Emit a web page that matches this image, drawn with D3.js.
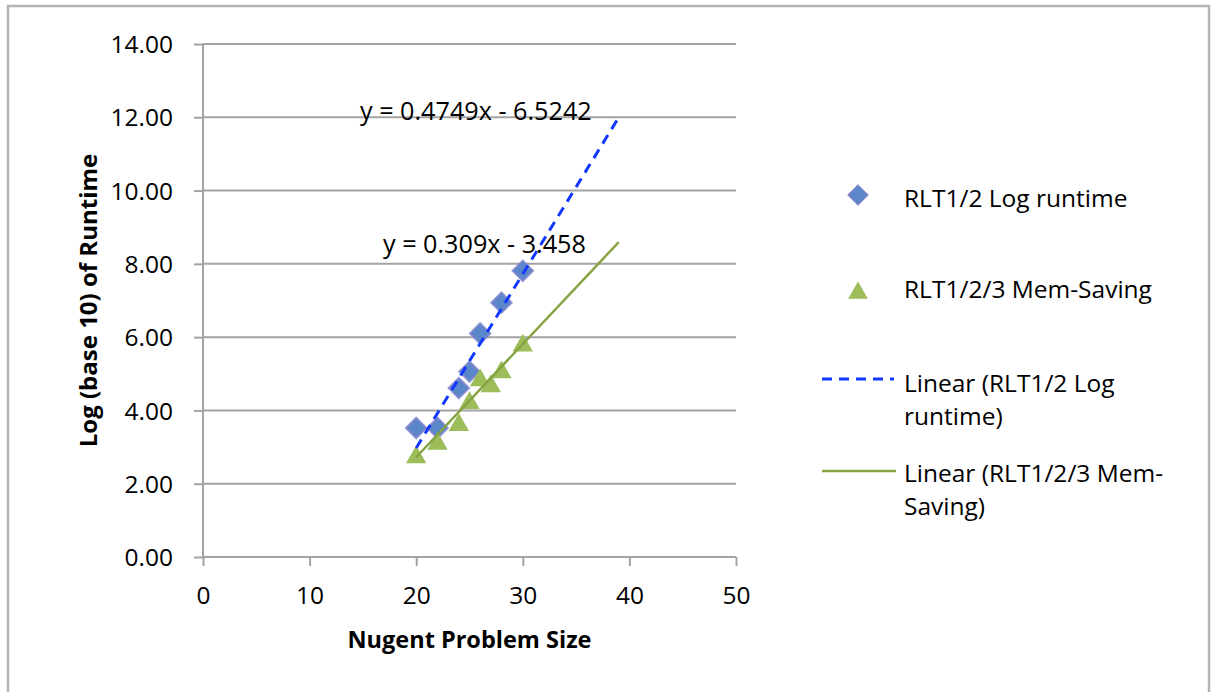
<!DOCTYPE html>
<html>
<head>
<meta charset="utf-8">
<script src="https://cdn.jsdelivr.net/npm/d3@7"></script>
<style>
  html, body { margin: 0; padding: 0; background: #fff; }
  svg { display: block; font-family: "Open Sans", "Liberation Sans", sans-serif; }
</style>
</head>
<body>
<svg id="chart" width="1211" height="692"></svg>
<script>
// ---- data ----
const rltX = [20, 22, 24, 25, 26, 28, 30];
const rltY = [3.52, 3.52, 4.61, 5.06, 6.10, 6.94, 7.81];
const memX = [20, 22, 24, 25, 26, 27, 28, 30];
const memY = [2.80, 3.17, 3.68, 4.28, 4.90, 4.74, 5.12, 5.85];
const seriesNames = ["RLT1/2 Log runtime", "RLT1/2/3 Mem-Saving"];
const trendNames = [["Linear (RLT1/2 Log", "runtime)"], ["Linear (RLT1/2/3 Mem-", "Saving)"]];
const slopes = [0.4749, 0.309];
const intercepts = [-6.5242, -3.458];
const equations = ["y = 0.4749x - 6.5242", "y = 0.309x - 3.458"];
const trendEndX = 39;
const xTicks = [0, 10, 20, 30, 40, 50];
const yTicks = [0, 2, 4, 6, 8, 10, 12, 14];
const xTitle = "Nugent Problem Size";
const yTitle = "Log (base 10) of Runtime";

// ---- layout ----
const svg = d3.select("#chart");
const x = d3.scaleLinear().domain([0, 50]).range([203, 736]);
const y = d3.scaleLinear().domain([0, 14]).range([557, 44]);
const gridColor = "#a3a3a3";
const blue = "#5a87c9", blueStroke = "#7f82cc";
const green = "#9cbd5a";
const dashBlue = "#1238ff";
const lineGreen = "#86a443";
const fs = 24.5;

svg.append("rect").attr("width", 1211).attr("height", 692).attr("fill", "#fff");
svg.append("rect").attr("x", 8).attr("y", 6).attr("width", 1201).attr("height", 720)
  .attr("fill", "none").attr("stroke", "#b5b5b5").attr("stroke-width", 2.5);

// gridlines
svg.append("g").selectAll("line").data(yTicks.filter(d => d > 0)).join("line")
  .attr("x1", x(0)).attr("x2", x(50))
  .attr("y1", d => y(d)).attr("y2", d => y(d))
  .attr("stroke", gridColor).attr("stroke-width", 2);

// y axis
const yAxis = svg.append("g").attr("transform", `translate(${x(0)},0)`)
  .call(d3.axisLeft(y).tickValues(yTicks).tickFormat(d3.format(".2f")).tickSize(9).tickPadding(21));
yAxis.select(".domain").attr("stroke", gridColor).attr("stroke-width", 2).attr("d", `M0,${y(0)}V${y(14)}`);
yAxis.selectAll(".tick line").attr("stroke", gridColor).attr("stroke-width", 2);
yAxis.selectAll(".tick text").attr("font-size", fs).attr("fill", "#000")
  .attr("font-family", "'Open Sans', sans-serif").attr("dy", "0.35em");

// x axis
const xAxis = svg.append("g").attr("transform", `translate(0,${y(0)})`)
  .call(d3.axisBottom(x).tickValues(xTicks).tickFormat(d3.format("d")).tickSize(9).tickPadding(21));
xAxis.select(".domain").attr("stroke", gridColor).attr("stroke-width", 2).attr("d", `M${x(0)},0H${x(50)}`);
xAxis.selectAll(".tick line").attr("stroke", gridColor).attr("stroke-width", 2);
xAxis.selectAll(".tick text").attr("font-size", fs).attr("fill", "#000")
  .attr("font-family", "'Open Sans', sans-serif").attr("y", 47).attr("dy", 0);

// axis titles
svg.append("text").attr("x", (x(0) + x(50)) / 2).attr("y", 648)
  .attr("text-anchor", "middle").attr("font-weight", "bold").attr("font-size", 23.5)
  .text(xTitle);
svg.append("text").attr("transform", `translate(97,${(y(0) + y(14)) / 2}) rotate(-90)`)
  .attr("text-anchor", "middle").attr("font-weight", "bold").attr("font-size", 24)
  .text(yTitle);

// markers
const diamond = d3.symbol().type(d3.symbolSquare).size(210)();
const triSize = 180;
const triangle = d3.symbol().type(d3.symbolTriangle).size(triSize)();
const triShift = Math.sqrt(triSize * 4 / Math.sqrt(3)) * Math.sqrt(3) / 2 / 6;

svg.append("g").selectAll("path").data(rltX.map((d, i) => [d, rltY[i]])).join("path")
  .attr("d", diamond)
  .attr("transform", d => `translate(${x(d[0])},${y(d[1])}) rotate(45)`)
  .attr("fill", blue).attr("stroke", blueStroke).attr("stroke-width", 2).attr("stroke-opacity", 0.8);

svg.append("g").selectAll("path").data(memX.map((d, i) => [d, memY[i]])).join("path")
  .attr("d", triangle)
  .attr("transform", d => `translate(${x(d[0])},${y(d[1]) + triShift})`)
  .attr("fill", green);

// trend lines
const startX = [d3.min(rltX), d3.min(memX)];
const line = d3.line().x(d => x(d[0])).y(d => y(d[1]));
[0, 1].forEach(i => {
  const pts = [startX[i], trendEndX].map(v => [v, slopes[i] * v + intercepts[i]]);
  svg.append("path").attr("d", line(pts)).attr("fill", "none")
    .attr("stroke", i === 0 ? dashBlue : lineGreen)
    .attr("stroke-width", i === 0 ? 3 : 2.5)
    .attr("stroke-dasharray", i === 0 ? "10,7" : null);
});

// equation labels
svg.append("text").attr("x", 360).attr("y", 120).attr("font-size", 25.2).text(equations[0]);
svg.append("text").attr("x", 383).attr("y", 253).attr("font-size", 25.2).text(equations[1]);

// legend
const lg = svg.append("g");
lg.append("path").attr("d", d3.symbol().type(d3.symbolSquare).size(190)())
  .attr("transform", "translate(858,195) rotate(45)")
  .attr("fill", blue).attr("stroke", blueStroke).attr("stroke-width", 1.5);
lg.append("text").attr("x", 904).attr("y", 207).attr("font-size", fs).text(seriesNames[0]);
lg.append("path").attr("d", d3.symbol().type(d3.symbolTriangle).size(170)())
  .attr("transform", `translate(858,${290 + triShift})`).attr("fill", green);
lg.append("text").attr("x", 904).attr("y", 298).attr("font-size", fs).text(seriesNames[1]);

lg.append("line").attr("x1", 822).attr("x2", 894).attr("y1", 379).attr("y2", 379)
  .attr("stroke", dashBlue).attr("stroke-width", 3).attr("stroke-dasharray", "10,7");
trendNames[0].forEach((t, k) => lg.append("text").attr("x", 904).attr("y", 392 + k * 33).attr("font-size", fs).text(t));
lg.append("line").attr("x1", 822).attr("x2", 896).attr("y1", 471).attr("y2", 471)
  .attr("stroke", lineGreen).attr("stroke-width", 2.5);
trendNames[1].forEach((t, k) => lg.append("text").attr("x", 904).attr("y", 482 + k * 33).attr("font-size", fs).text(t));
</script>
</body>
</html>
